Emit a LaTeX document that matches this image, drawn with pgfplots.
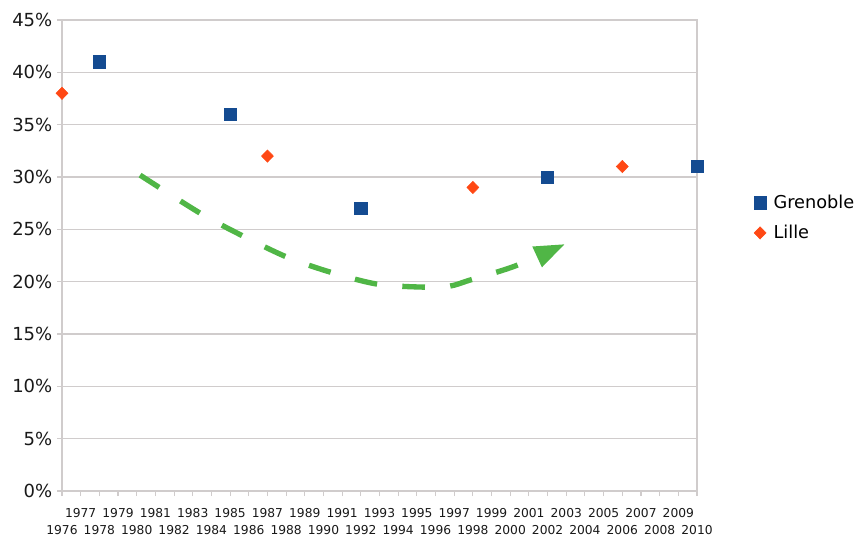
\documentclass[border=0pt]{standalone}
\usepackage{pgfplots}
\pgfplotsset{compat=1.18}
\usepackage{fontspec}
\setmainfont{DejaVu Sans}
\usetikzlibrary{arrows.meta}
\definecolor{gblue}{RGB}{20,75,145}
\definecolor{lorange}{RGB}{255,72,20}
\definecolor{agreen}{RGB}{80,182,70}
\definecolor{gridc}{RGB}{208,204,204}
\begin{document}
\begin{tikzpicture}
\begin{axis}[
  scale only axis, width=476.25pt, height=353.25pt,
  xmin=1976, xmax=2010, ymin=0, ymax=45,
  clip=false,
  axis line style={draw=gridc, line width=0.8pt},
  tick style={gridc, line width=0.8pt},
  tick align=outside, major tick length=3.75pt,
  xtick pos=left, ytick pos=left,
  ytick={0,5,...,45},
  yticklabels={0\%,5\%,10\%,15\%,20\%,25\%,30\%,35\%,40\%,45\%},
  yticklabel style={font=\fontsize{13.5}{16}\selectfont, text=black!90},
  ymajorgrids, grid style={gridc, line width=0.8pt},
  xtick={1977,1979,...,2009},
  xticklabels={1977,1979,1981,1983,1985,1987,1989,1991,1993,1995,1997,1999,2001,2003,2005,2007,2009},
  xticklabel style={font=\fontsize{9.2}{11}\selectfont, text=black!90, yshift=-6pt},
  extra x ticks={1976,1978,...,2010},
  extra x tick labels={1976,1978,1980,1982,1984,1986,1988,1990,1992,1994,1996,1998,2000,2002,2004,2006,2008,2010},
  extra x tick style={xmajorgrids=false, tick label style={yshift=-12.75pt}},
  legend style={draw=none, fill=none, at={(rel axis cs:1.083,0.58)}, anchor=west,
    font=\fontsize{13.3}{15}\selectfont, row sep=7pt},
  legend cell align=left,
]
\addplot[only marks, mark=square*, mark size=4.6pt, color=gblue] coordinates {
(1978,41) (1985,36) (1992,27) (2002,30) (2010,31)};
\addlegendentry{\hspace{3.5pt}Grenoble}
\addplot[only marks, mark=diamond*, mark size=4.6pt, mark options={xscale=1.3}, color=lorange] coordinates {
(1976,38) (1987,32) (1998,29) (2006,31)};
\addlegendentry{\hspace{3.5pt}Lille}
\addplot[agreen, line width=4pt, smooth, dash pattern=on 17pt off 19pt,
  -{Triangle[length=23pt,width=16pt]}, forget plot] coordinates {
(1980.18,30.18) (1983.39,26.55) (1985.69,24.36) (1988.04,22.35) (1990.35,20.92)
(1992.86,19.77) (1995.33,19.48) (1996.77,19.58) (1997.84,20.15) (2000.25,21.49) (2002.93,23.59)};
\end{axis}
\pgfresetboundingbox
\path[use as bounding box] (current axis.south west) ++(-46.5pt,-33.75pt) rectangle ++(642pt,402pt);
\end{tikzpicture}
\end{document}
